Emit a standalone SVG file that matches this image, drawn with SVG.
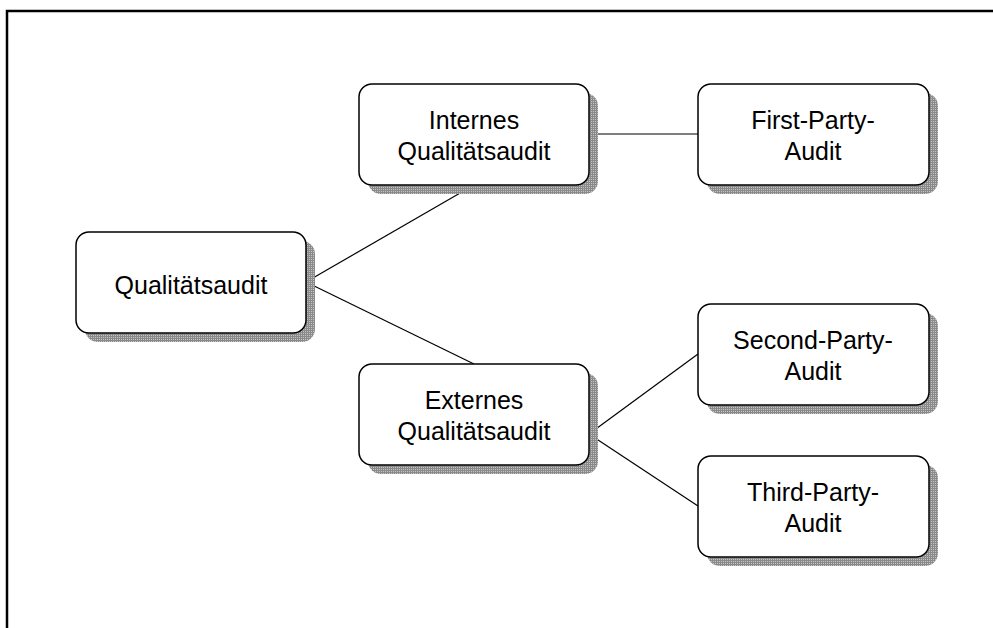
<svg xmlns="http://www.w3.org/2000/svg" width="993" height="628" viewBox="0 0 993 628">
  <defs>
    <!-- dithered grey used for the drop shadows -->
    <pattern id="dither" width="2" height="2" patternUnits="userSpaceOnUse">
      <rect width="2" height="2" fill="#c4c4c4"/>
      <rect width="2" height="1" fill="#8a8a8a"/>
      <rect width="1" height="2" fill="#8a8a8a"/>
    </pattern>
  </defs>
  <style>
    .shadow { fill: url(#dither); stroke: none; }
    .box { fill: #ffffff; stroke: #000000; stroke-width: 1.5; }
    .label { font-family: "Liberation Sans", Arial, sans-serif; font-size: 25px; fill: #000000; text-anchor: middle; }
    .conn line { stroke: #000000; stroke-width: 1.2; }
    .frame { fill: none; stroke: #000000; stroke-width: 2.5; }
  </style>

  <rect width="993" height="628" fill="#ffffff"/>
  <!-- outer frame: top and left edges only -->
  <path class="frame" d="M7,628 V11 H993"/>

  <g id="connectors" class="conn">
    <line x1="306" y1="282" x2="474" y2="185"/>
    <line x1="306" y1="282" x2="474" y2="364"/>
    <line x1="589" y1="134" x2="698" y2="134"/>
    <line x1="589" y1="434" x2="698" y2="354"/>
    <line x1="589" y1="434" x2="698" y2="506"/>
  </g>

  <g id="qualitaetsaudit">
    <rect class="shadow" x="85" y="241" width="230" height="101" rx="13"/>
    <rect class="box" x="76" y="232" width="230" height="101" rx="13"/>
    <text class="label" x="191" y="294">Qualitätsaudit</text>
  </g>

  <g id="internes-audit">
    <rect class="shadow" x="368" y="93" width="230" height="101" rx="13"/>
    <rect class="box" x="359" y="84" width="230" height="101" rx="13"/>
    <text class="label" x="474" y="129">Internes</text>
    <text class="label" x="474" y="160">Qualitätsaudit</text>
  </g>

  <g id="externes-audit">
    <rect class="shadow" x="368" y="373" width="230" height="101" rx="13"/>
    <rect class="box" x="359" y="364" width="230" height="101" rx="13"/>
    <text class="label" x="474" y="409">Externes</text>
    <text class="label" x="474" y="440">Qualitätsaudit</text>
  </g>

  <g id="first-party">
    <rect class="shadow" x="707" y="93" width="231" height="101" rx="13"/>
    <rect class="box" x="698" y="84" width="231" height="101" rx="13"/>
    <text class="label" x="813" y="129">First-Party-</text>
    <text class="label" x="813" y="160">Audit</text>
  </g>

  <g id="second-party">
    <rect class="shadow" x="707" y="313" width="231" height="101" rx="13"/>
    <rect class="box" x="698" y="304" width="231" height="101" rx="13"/>
    <text class="label" x="813" y="349">Second-Party-</text>
    <text class="label" x="813" y="380">Audit</text>
  </g>

  <g id="third-party">
    <rect class="shadow" x="707" y="465" width="231" height="101" rx="13"/>
    <rect class="box" x="698" y="456" width="231" height="101" rx="13"/>
    <text class="label" x="813" y="501">Third-Party-</text>
    <text class="label" x="813" y="532">Audit</text>
  </g>
</svg>
